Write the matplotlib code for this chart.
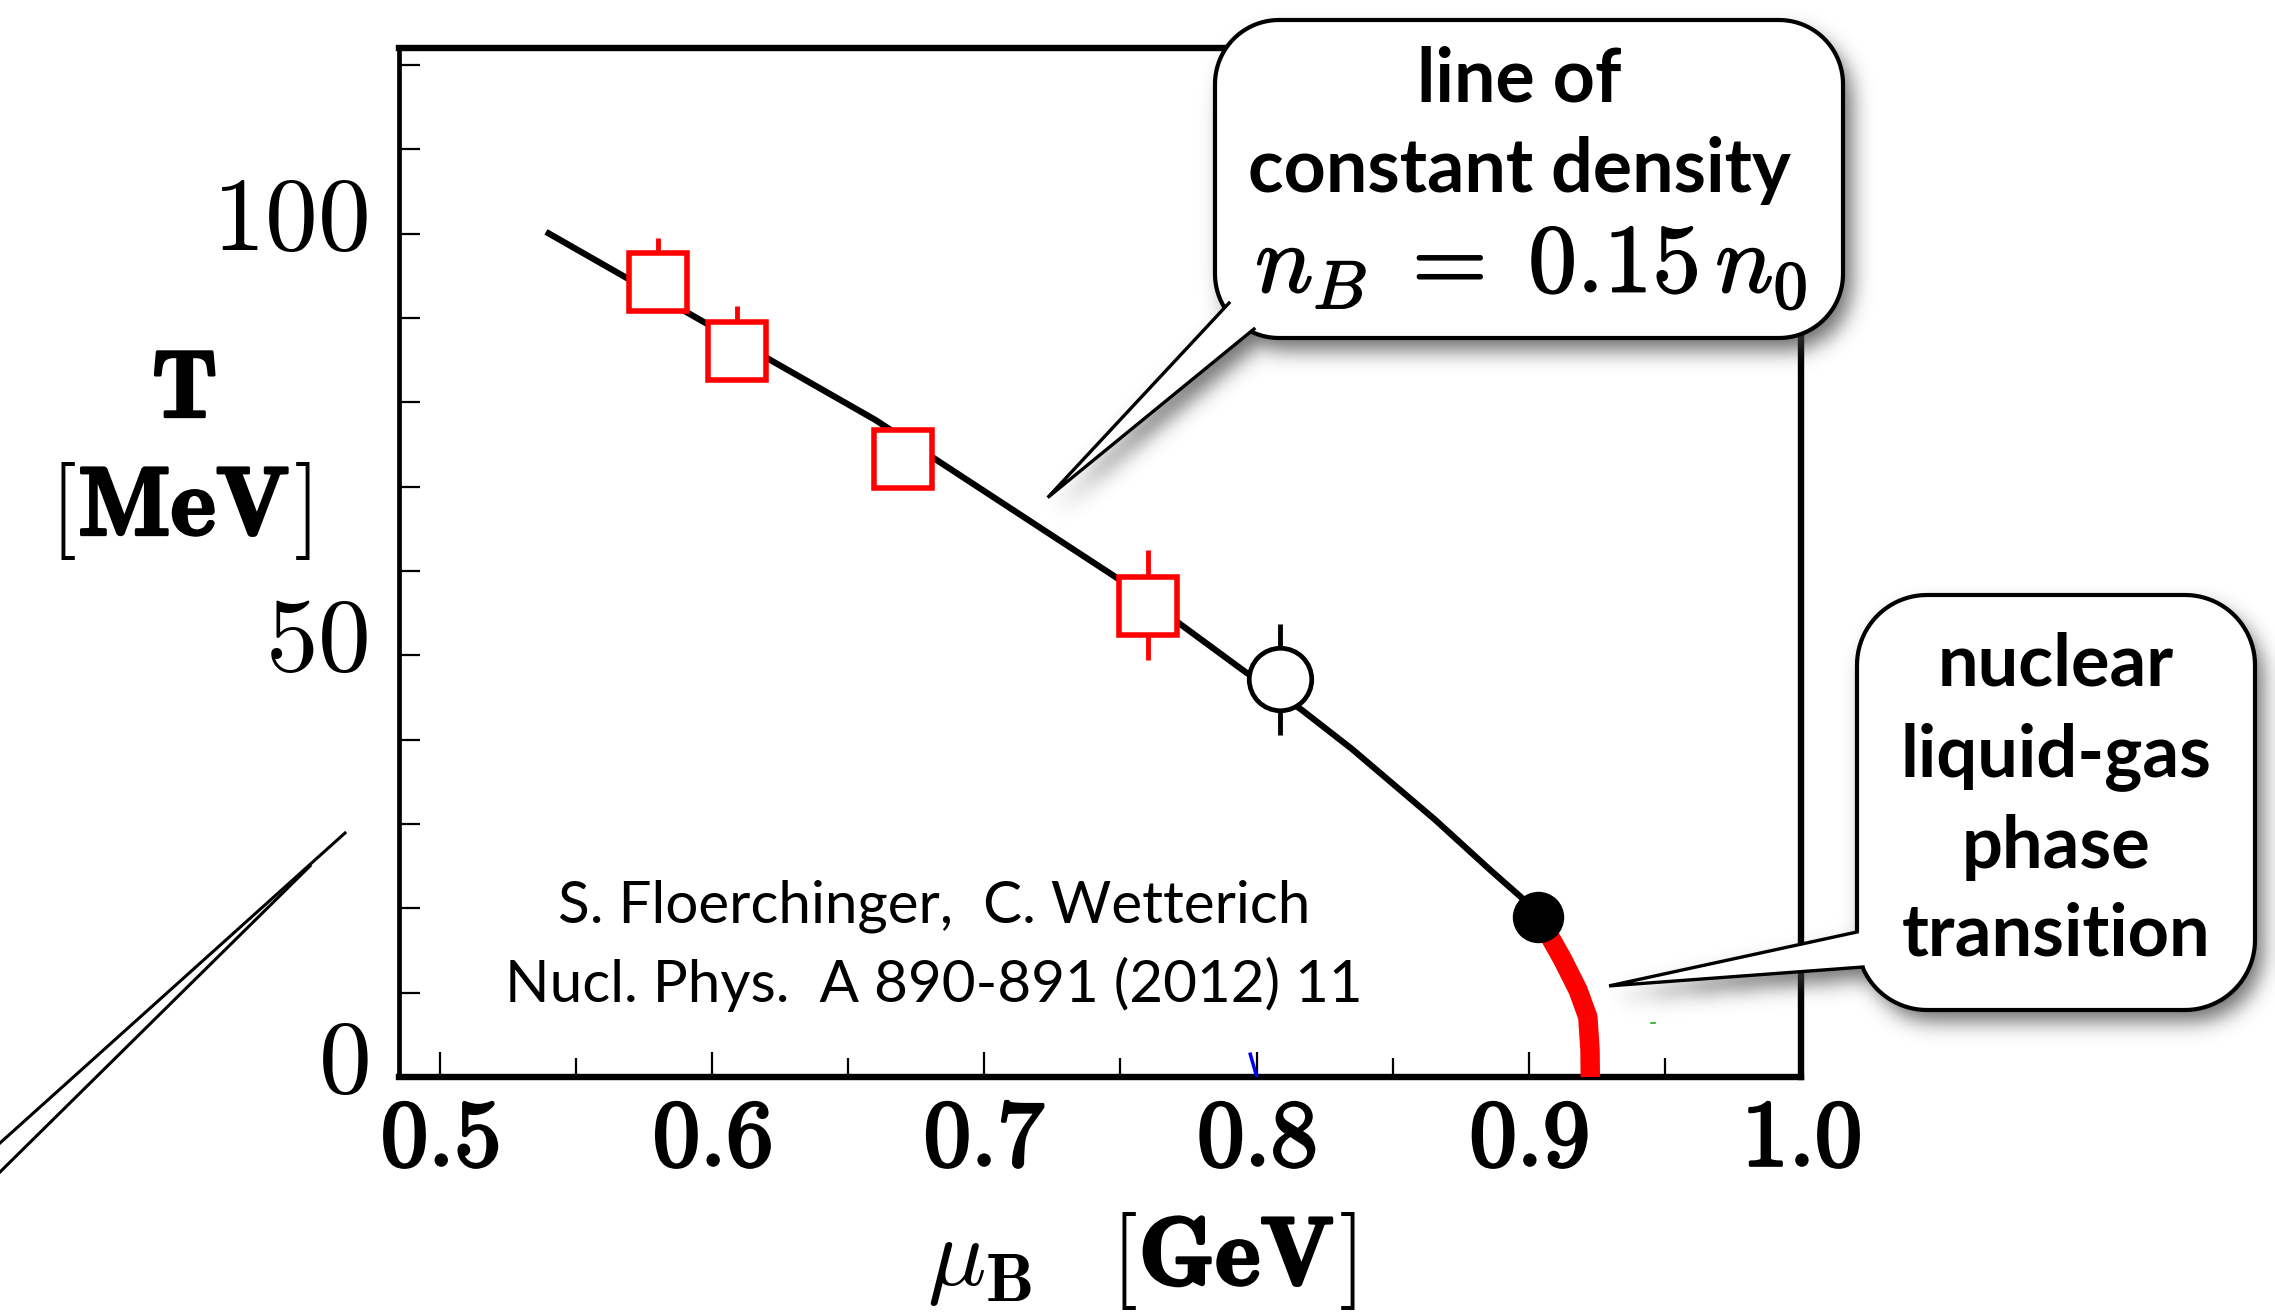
import numpy as np
import matplotlib
matplotlib.use('Agg')
import matplotlib.pyplot as plt
import matplotlib.patheffects as pe
from matplotlib.patches import Polygon
from matplotlib.path import Path
from matplotlib.transforms import ScaledTranslation, IdentityTransform

plt.rcParams['mathtext.fontset'] = 'cm'

# ---------------- data ----------------
curve_mu = [0.539, 0.590, 0.660, 0.750, 0.796, 0.8163, 0.835, 0.8656, 0.886, 0.8997, 0.9034]
curve_T = [100.2, 90.8, 77.9, 58.9, 48.0, 43.6, 38.9, 30.5, 24.5, 20.6, 19.0]

red_mu = [0.9034, 0.9078, 0.9125, 0.9181, 0.9217, 0.9225, 0.9226]
red_T = [19.0, 16.6, 13.9, 10.3, 7.1, 3.2, 0.0]

sq_mu = [0.580, 0.609, 0.670, 0.760]
sq_T = [94.3, 86.1, 73.3, 55.9]
sq_err_up = [5.2, 5.3, 0.0, 6.6]
sq_err_dn = [0.0, 0.0, 0.0, 6.5]

circ_mu = [0.8085]
circ_T = [47.2]
circ_err_up = [6.5]
circ_err_dn = [6.6]

dot_mu = [0.9034]
dot_T = [19.0]

blue_mu = [0.7977, 0.8001]
blue_T = [2.7, 0.0]

green_mu = [0.9448, 0.9462]
green_T = [6.4, 6.4]

xticks_major = [0.5, 0.6, 0.7, 0.8, 0.9, 1.0]
xtick_labels = [r'$\mathbf{0.5}$', r'$\mathbf{0.6}$', r'$\mathbf{0.7}$',
                r'$\mathbf{0.8}$', r'$\mathbf{0.9}$', r'$\mathbf{1.0}$']
xticks_minor = [0.55, 0.65, 0.75, 0.85, 0.95]
yticks_major = [0, 50, 100]
ytick_labels = [r'$0$', r'$50$', r'$100$']
yticks_minor = [10, 20, 30, 40, 60, 70, 80, 90, 110, 120]

W, H = 2275, 1315
fig = plt.figure(figsize=(W / 100, H / 100), dpi=100)
fig.patch.set_facecolor('white')

ax = fig.add_axes([399 / W, 1 - 1077 / H, 1402 / W, 1029 / H])
ax.set_xlim(0.485, 1.0)
ax.set_ylim(0, 122)

for s in ['top', 'right', 'bottom']:
    ax.spines[s].set_linewidth(4.6)
ax.spines['left'].set_linewidth(3.4)

bold = [pe.withStroke(linewidth=2.2, foreground='black')]

ax.set_xticks(xticks_major)
ax.set_xticklabels(xtick_labels)
ax.set_xticks(xticks_minor, minor=True)
ax.set_yticks(yticks_major)
ax.set_yticklabels(ytick_labels)
ax.set_yticks(yticks_minor, minor=True)
ax.tick_params(axis='both', which='both', direction='in', top=False, right=False,
               width=1.6, colors='black')
ax.tick_params(axis='x', which='major', length=18, pad=12, labelsize=68)
ax.tick_params(axis='x', which='minor', length=14)
ax.tick_params(axis='y', which='both', length=15, pad=22, labelsize=76)
for lab in ax.get_xticklabels():
    lab.set_path_effects(bold)
for lab in ax.get_yticklabels():
    lab.set_verticalalignment('center')
    lab.set_transform(lab.get_transform() + ScaledTranslation(0, 0.13, fig.dpi_scale_trans))

# curve
ax.plot(curve_mu, curve_T, color='black', lw=4.5, zorder=2, solid_capstyle='butt')
ax.plot(red_mu, red_T, color='#ff0000', lw=14, zorder=3, solid_capstyle='butt',
        solid_joinstyle='round')
ax.plot(blue_mu, blue_T, color='blue', lw=2.5, zorder=3)
ax.plot(green_mu, green_T, color='#22aa22', lw=1.2, zorder=3)

# error bars
ax.vlines(sq_mu, np.array(sq_T) - np.array(sq_err_dn), np.array(sq_T) + np.array(sq_err_up),
          color='#ff0000', lw=3.5, zorder=4)
ax.vlines(circ_mu, np.array(circ_T) - np.array(circ_err_dn), np.array(circ_T) + np.array(circ_err_up),
          color='black', lw=3.5, zorder=4)

# markers
ax.plot(sq_mu, sq_T, ls='none', marker='s', ms=42, mfc='white', mec='#ff0000', mew=4, zorder=5)
ax.plot(circ_mu, circ_T, ls='none', marker='o', ms=45, mfc='white', mec='black', mew=3.4, zorder=5)
ax.plot(dot_mu, dot_T, ls='none', marker='o', ms=36, mfc='black', mec='black', zorder=6)

# citation
ax.text(0.6815, 20.2, 'S. Floerchinger,  C. Wetterich', fontfamily='Lato', fontsize=42,
        ha='center', va='center', zorder=7)
ax.text(0.6815, 11.0, 'Nucl. Phys.  A 890-891 (2012) 11', fontfamily='Lato', fontsize=42,
        ha='center', va='center', zorder=7)

# axis labels (built from pieces so that only the unit letters are heavy)
renderer = fig.canvas.get_renderer()


def place_row(pieces, cx, y_base, fs):
    texts, widths = [], []
    for s, strong, gap in pieces:
        t = fig.text(0, H - y_base, s, fontsize=fs, ha='left', va='baseline',
                     transform=IdentityTransform(), path_effects=bold if strong else [])
        texts.append((t, gap))
        widths.append(t.get_window_extent(renderer).width + gap)
    x = cx - sum(widths) / 2
    for (t, gap), w in zip(texts, widths):
        x += gap
        t.set_x(x)
        x += w - gap


fig.text(184 / W, 1 - 391 / H, r'$\mathbf{T}$', fontsize=68, ha='center', va='center',
         path_effects=bold)
place_row([(r'$[$', False, 0), (r'$\mathbf{MeV}$', True, 2), (r'$]$', False, 4)],
          180, 535, 70)
place_row([(r'$\mu_{\mathbf{B}}$', False, 0), (r'$[$', False, 78),
           (r'$\mathbf{GeV}$', True, 2), (r'$]$', False, 4)],
          1141, 1285, 70)

# ---------------- overlay for callouts (pixel coordinates, y down) ----------------
ov = fig.add_axes([0, 0, 1, 1], zorder=10)
ov.set_xlim(0, W)
ov.set_ylim(H, 0)
ov.axis('off')
ov.patch.set_alpha(0)


def rrect(x0, y0, x1, y1, r, n=24):
    pts = []
    corners = [(x1 - r, y0 + r, -90, 0), (x1 - r, y1 - r, 0, 90),
               (x0 + r, y1 - r, 90, 180), (x0 + r, y0 + r, 180, 270)]
    for cx, cy, a0, a1 in corners:
        for a in np.linspace(np.radians(a0), np.radians(a1), n):
            pts.append((cx + r * np.cos(a), cy + r * np.sin(a)))
    return np.array(pts)


def to_px(mu, T):
    d = ax.transData.transform((mu, T))
    return (d[0], H - d[1])


box1 = rrect(1215, 20, 1843, 338, 64)
apex1 = to_px(0.7233, 68.7)
ptr1 = [apex1, (1229, 303), (1285, 270), (1254, 329)]

box2 = rrect(1857, 595, 2255, 1010, 70)
apex2 = to_px(0.9295, 10.8)
ptr2 = [apex2, (1857, 932), (1920, 940), (1863, 967)]

# blurred shadow
step = 3
gx = np.arange(0, W, step) + step / 2
gy = np.arange(0, H, step) + step / 2
GX, GY = np.meshgrid(gx, gy)
pts = np.column_stack([GX.ravel(), GY.ravel()])
dx, dy = 10, 13
mask = np.zeros(len(pts), dtype=bool)
for poly in [box1, np.array(ptr1), box2, np.array(ptr2)]:
    p = Path(np.asarray(poly) + np.array([dx, dy]))
    mask |= p.contains_points(pts)
mask = mask.reshape(GX.shape).astype(float)
sig = 10.0 / step
kx = np.arange(-int(4 * sig), int(4 * sig) + 1)
k = np.exp(-0.5 * (kx / sig) ** 2)
k /= k.sum()
blur = np.apply_along_axis(lambda m: np.convolve(m, k, mode='same'), 0, mask)
blur = np.apply_along_axis(lambda m: np.convolve(m, k, mode='same'), 1, blur)
rgba = np.zeros(blur.shape + (4,))
rgba[..., :3] = 0.25
rgba[..., 3] = blur * 0.75
ov.imshow(rgba, extent=(0, W, H, 0), origin='upper', interpolation='bilinear', zorder=1,
          aspect='auto')
ov.set_xlim(0, W)
ov.set_ylim(H, 0)

for box, ptr in [(box1, ptr1), (box2, ptr2)]:
    ov.add_patch(Polygon(box, closed=True, facecolor='white', edgecolor='black', lw=3.0, zorder=3))
    ov.add_patch(Polygon(ptr, closed=True, facecolor='white', edgecolor='none', zorder=4))
    ov.plot([ptr[1][0], ptr[0][0], ptr[3][0]], [ptr[1][1], ptr[0][1], ptr[3][1]],
            color='black', lw=2.4, zorder=5, solid_joinstyle='miter')

# bottom-left wedge (partial callout pointer)
wedge = [(345, 833), (0, 1143), (0, 1172), (310, 866)]
ov.add_patch(Polygon(wedge, closed=True, facecolor='white', edgecolor='none', zorder=3))
ov.plot([0, 345], [1143, 833], color='black', lw=2.2, zorder=4)
ov.plot([0, 310], [1172, 866], color='black', lw=2.2, zorder=4)

# callout texts
ov.text(1519, 80, 'line of', fontfamily='Lato', fontweight='bold', fontsize=53,
        ha='center', va='center', zorder=6)
ov.text(1519, 170, 'constant density', fontfamily='Lato', fontweight='bold', fontsize=53,
        ha='center', va='center', zorder=6)
ov.text(1531, 266, r'$n_B\;=\;0.15\,n_0$', fontsize=70, ha='center', va='center', zorder=6,
        path_effects=[pe.withStroke(linewidth=1.2, foreground='black')])

for txt, yy in [('nuclear', 665), ('liquid-gas', 757), ('phase', 847), ('transition', 935)]:
    ov.text(2056, yy, txt, fontfamily='Lato', fontweight='bold', fontsize=52,
            ha='center', va='center', zorder=6)

fig.savefig('out.png', dpi=100, facecolor='white')
